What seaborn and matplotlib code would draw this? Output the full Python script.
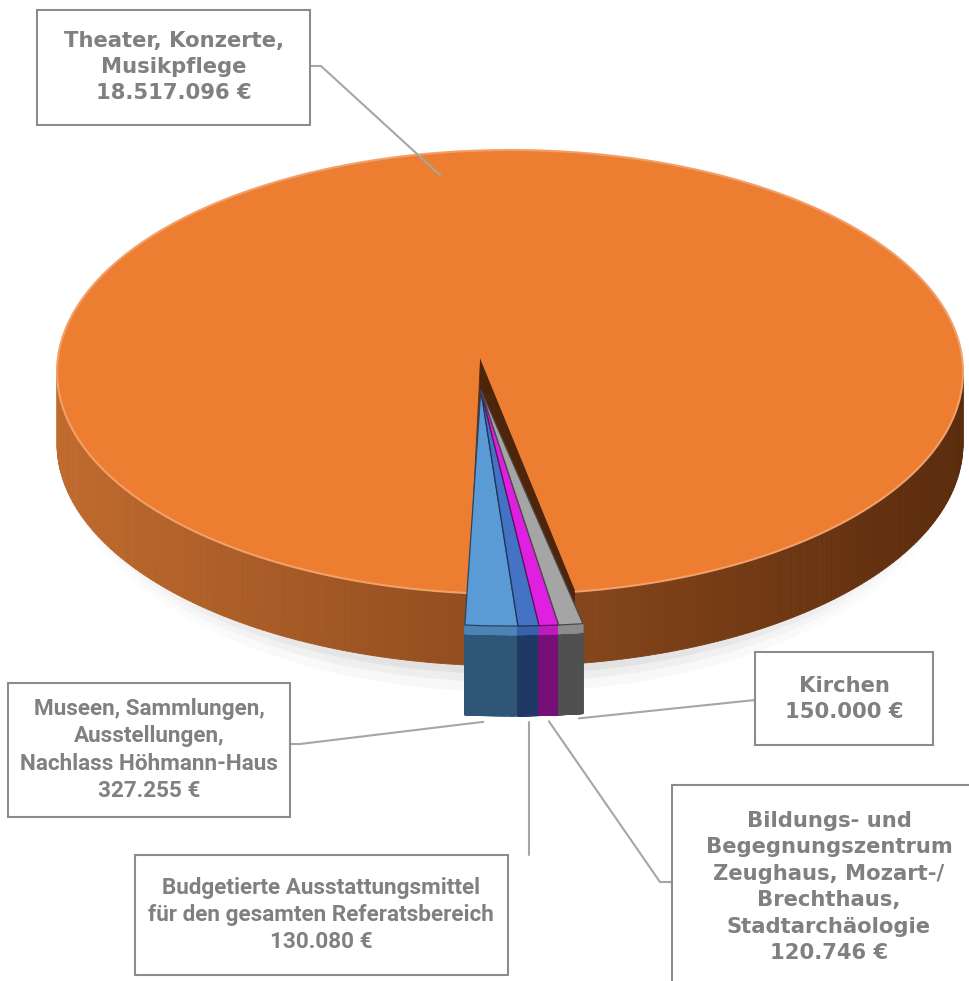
import numpy as np
import matplotlib.pyplot as plt
import seaborn as sns
from matplotlib.patches import Polygon, Rectangle
from matplotlib.colors import to_rgb

# --- Data ---
categories = [
    "Theater, Konzerte,\nMusikpflege",
    "Museen, Sammlungen,\nAusstellungen,\nNachlass Höhmann-Haus",
    "Budgetierte Ausstattungsmittel\nfür den gesamten Referatsbereich",
    "Bildungs- und\nBegegnungszentrum\nZeughaus, Mozart-/\nBrechthaus,\nStadtarchäologie",
    "Kirchen",
]
values = [18517096, 327255, 130080, 120746, 150000]
top_colors = ["#ED7D31", "#5B9BD5", "#4472C4", "#E020E0", "#A5A5A5"]
side_colors = ["#A3561F", "#2F5677", "#203864", "#760F76", "#505050"]
explode = [0.0, 1.0, 1.0, 1.0, 1.0]

# --- Layout (pixel space) ---
W, H = 970, 981
ex, ey = 510, 372          # ellipse centre
apex = (480, 358)          # projected pie centre (perspective)
rx, ry = 453, 222
depth = 72
small_depth = 90
small_sx = 1.1             # front slices look bigger (closer to viewer)
small_shift = 32
start_small = -95.3        # angle where the first small slice starts

# label boxes: x0, y0, x1, y1, text centre, font
boxes = [
    (37, 10, 310, 125, 174, 67, "DejaVu Sans"),
    (8, 683, 290, 817, 149, 750, "Roboto"),
    (135, 855, 508, 975, 321, 915, "Roboto"),
    (672, 785, 1010, 1010, 829, 887, "DejaVu Sans"),
    (755, 652, 933, 745, 844, 699, "DejaVu Sans"),
]

sns.set_theme(style="white")
plt.rcParams["font.family"] = ["Roboto", "DejaVu Sans"]

fig = plt.figure(figsize=(W / 100, H / 100), dpi=100)
ax = fig.add_axes([0, 0, 1, 1])
ax.set_xlim(0, W)
ax.set_ylim(H, 0)
ax.axis("off")


def rim_pt(theta, z=0.0, off=(0, 0), sx=1.0):
    t = np.radians(theta)
    return (ex + sx * rx * np.cos(t) + off[0], ey - ry * np.sin(t) + z + off[1])


def centre(z=0.0, off=(0, 0)):
    return (apex[0] + off[0], apex[1] + z + off[1])


def shade(c, f):
    c = np.array(to_rgb(c))
    return tuple(np.clip(c * f, 0, 1))


total = sum(values)
spans = [v / total * 360 for v in values]
t0 = start_small - spans[0]
angles = []
for s in spans:
    angles.append((t0, t0 + s))
    t0 += s

small_mid = np.radians((angles[1][0] + angles[-1][1]) / 2)
offsets = [(e * small_shift * np.cos(small_mid), -e * small_shift * np.sin(small_mid)) for e in explode]
scales = [1.0 if e == 0 else small_sx for e in explode]
depths = [depth if e == 0 else small_depth for e in explode]

# soft shadow under the front of the pie, fading towards the sides
sh_th = np.linspace(-180, 0, 181)
for j in range(len(sh_th) - 1):
    s = -np.sin(np.radians((sh_th[j] + sh_th[j + 1]) / 2))
    for k, al in [(26, 0.03), (16, 0.04), (8, 0.05)]:
        p1 = rim_pt(sh_th[j], depth - 20)
        p2 = rim_pt(sh_th[j + 1], depth - 20)
        q2 = rim_pt(sh_th[j + 1], depth + k * s)
        q1 = rim_pt(sh_th[j], depth + k * s)
        ax.add_patch(Polygon([p1, p2, q2, q1], closed=True, fc="black", ec="none",
                             alpha=al * s ** 2, zorder=1))


def draw_wall(i, gradient=False):
    a, b = angles[i]
    off, sx, d = offsets[i], scales[i], depths[i]
    th = np.linspace(a, b, 400)
    vis = np.sin(np.radians(th)) < 0
    xmin, xmax = ex - rx, ex + rx
    for j in range(len(th) - 1):
        if not (vis[j] and vis[j + 1]):
            continue
        p1 = rim_pt(th[j], off=off, sx=sx)
        p2 = rim_pt(th[j + 1], off=off, sx=sx)
        if gradient:
            f = (p1[0] - xmin) / (xmax - xmin)
            c = tuple(np.array(to_rgb("#C06A2E")) * (1 - f) + np.array(to_rgb("#5A2B0D")) * f)
        else:
            c = side_colors[i]
        quad = [p1, p2, (p2[0], p2[1] + d), (p1[0], p1[1] + d)]
        ax.add_patch(Polygon(quad, closed=True, fc=c, ec=c, lw=0.6, zorder=2))
        if not gradient:
            band = [p1, p2, (p2[0], p2[1] + 9), (p1[0], p1[1] + 9)]
            bc = shade(top_colors[i], 0.85)
            ax.add_patch(Polygon(band, closed=True, fc=bc, ec=bc, lw=0.4, zorder=2.1))


def draw_top(i, z):
    a, b = angles[i]
    off, sx = offsets[i], scales[i]
    th = np.linspace(a, b, 400)
    poly = [centre(off=off)] + [rim_pt(t, off=off, sx=sx) for t in th]
    ec = shade(top_colors[i], 0.45) if i else "none"
    ax.add_patch(Polygon(poly, closed=True, fc=top_colors[i], ec=ec, lw=0.9, zorder=z))


# orange cut faces inside the gap
a0, b0 = angles[0]
for th, col in [(b0, "#6E3510"), (a0 + 360, "#4E250A")]:
    c0 = centre()
    p = rim_pt(th)
    face = [c0, p, (p[0], p[1] + depth), (c0[0], c0[1] + depth)]
    ax.add_patch(Polygon(face, closed=True, fc=col, ec=col, lw=0.5, zorder=2))

draw_wall(0, gradient=True)
draw_top(0, 3)
th = np.linspace(a0, b0, 400)
rim = np.array([rim_pt(t) for t in th])
ax.plot(rim[:, 0], rim[:, 1], color="#F2A06A", lw=1.5, zorder=3.5)

for i in range(1, len(values)):
    draw_wall(i)
    draw_top(i, 4)

# --- labels and leader lines ---
anchors = [(440, 175)]
for i in range(1, len(values)):
    a, b = angles[i]
    p = rim_pt((a + b) / 2, off=offsets[i], sx=scales[i])
    anchors.append((p[0], p[1] + depths[i] + 6))

line_col = "#A6A6A6"
txt_col = "#808080"
ax.plot([310, 321, anchors[0][0]], [66, 66, anchors[0][1]], color=line_col, lw=1.5, zorder=5)
ax.plot([290, 300, anchors[1][0] - 8], [744, 744, anchors[1][1]], color=line_col, lw=1.5, zorder=5)
ax.plot([anchors[2][0], anchors[2][0]], [855, anchors[2][1]], color=line_col, lw=1.5, zorder=5)
ax.plot([672, 660, anchors[3][0]], [882, 882, anchors[3][1]], color=line_col, lw=1.5, zorder=5)
ax.plot([755, anchors[4][0] + 8], [700, anchors[4][1] - 2], color=line_col, lw=1.5, zorder=5)

for (x0, y0, x1, y1, tx, ty, fam), name, v in zip(boxes, categories, values):
    ax.add_patch(Rectangle((x0, y0), x1 - x0, y1 - y0, fc="white", ec="#8C8C8C", lw=1.5, zorder=6))
    amount = f"{v:,}".replace(",", ".")
    wide = fam == "DejaVu Sans"
    ax.text(tx, ty, f"{name}\n{amount} €", ha="center", va="center", color=txt_col,
            family=[fam, "DejaVu Sans"], fontsize=15.2 if wide else 16.2,
            fontweight="bold", linespacing=1.4 if wide else 1.3, zorder=7)

fig.savefig("out.png", dpi=100)
